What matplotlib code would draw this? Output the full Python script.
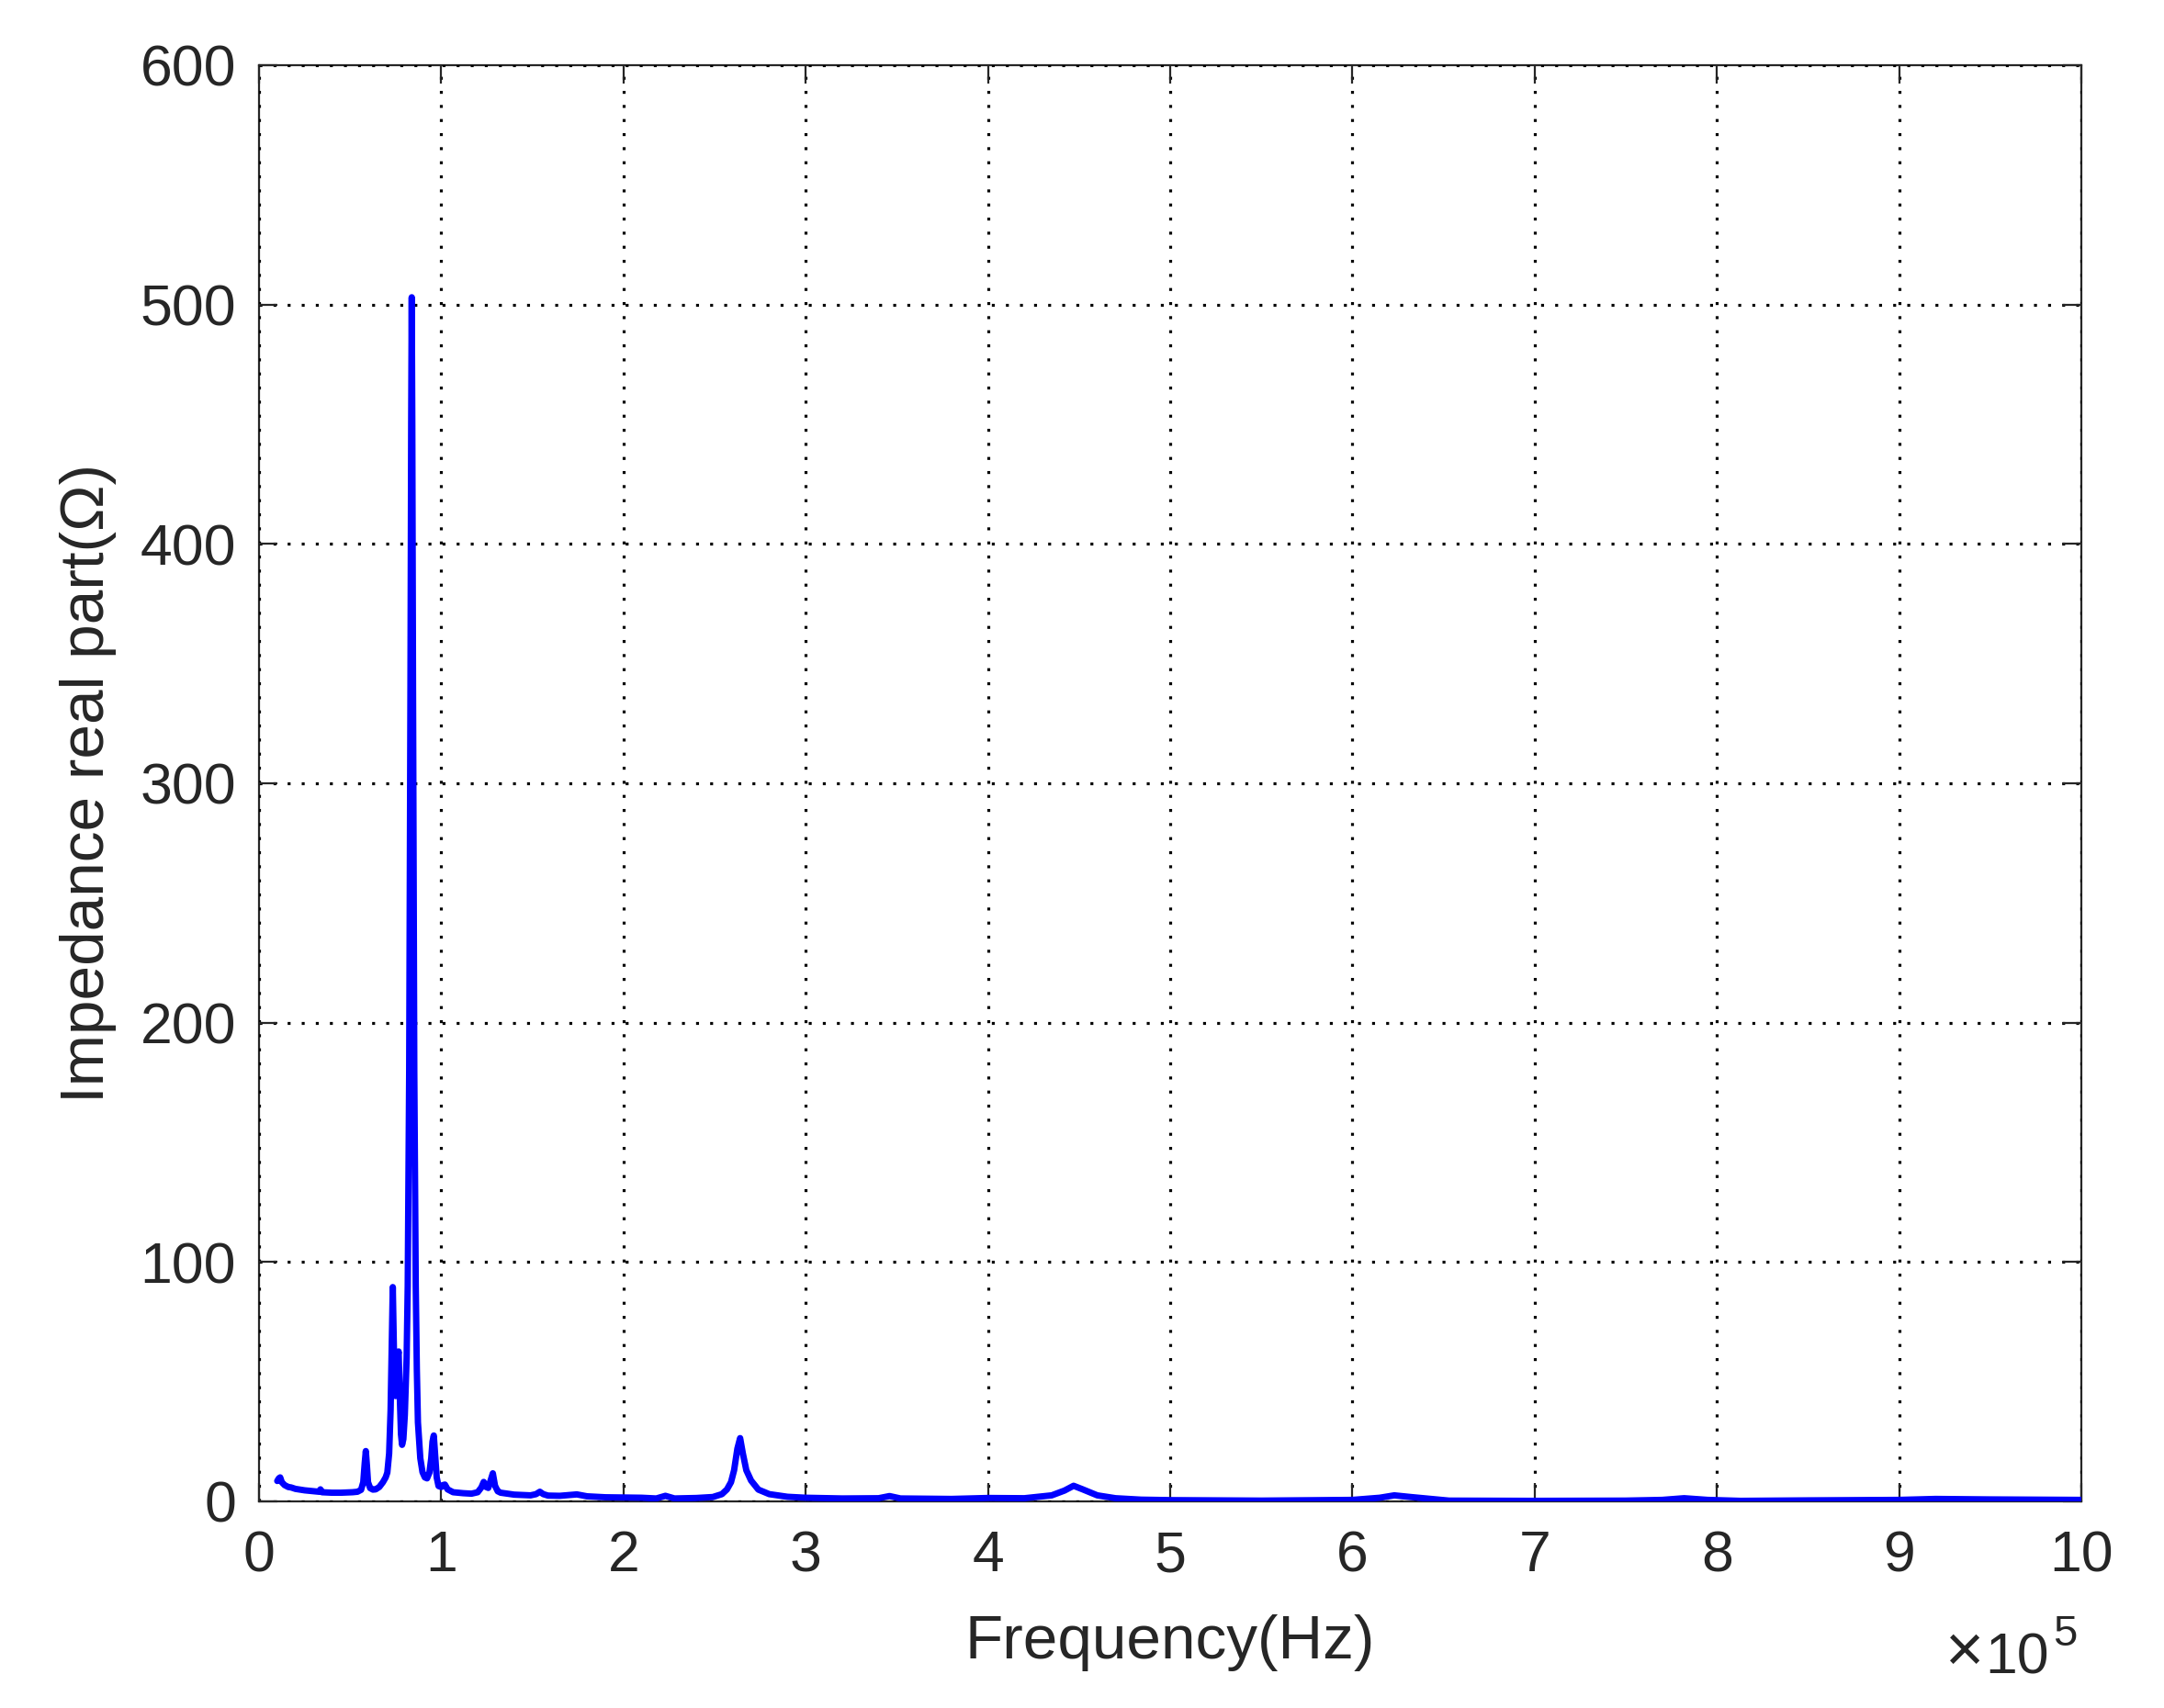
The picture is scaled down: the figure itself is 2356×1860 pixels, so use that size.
import numpy as np
import matplotlib.pyplot as plt
from matplotlib.ticker import FuncFormatter, MultipleLocator

plt.rcParams['font.family'] = ['Liberation Sans', 'DejaVu Sans']

# frequency, in units of 1e5 Hz
freq_e5 = [0.100, 0.109, 0.116, 0.125, 0.140, 0.160, 0.176, 0.200, 0.250, 0.300,
           0.330, 0.337, 0.345, 0.400, 0.450, 0.513, 0.540, 0.560, 0.572, 0.580,
           0.586, 0.592, 0.598, 0.610, 0.625, 0.640, 0.660, 0.680, 0.695, 0.704,
           0.714, 0.722, 0.728, 0.734, 0.740, 0.745, 0.749, 0.755, 0.761, 0.766,
           0.772, 0.779, 0.785, 0.792, 0.800, 0.810, 0.816, 0.824, 0.831, 0.835,
           0.838, 0.841, 0.845, 0.852, 0.860, 0.866, 0.872, 0.885, 0.897, 0.910,
           0.922, 0.935, 0.945, 0.952, 0.959, 0.966, 0.975, 0.985, 1.000, 1.010,
           1.020, 1.035, 1.065, 1.120, 1.166, 1.200, 1.220, 1.233, 1.246, 1.258,
           1.270, 1.283, 1.295, 1.310, 1.326, 1.400, 1.490, 1.520, 1.541, 1.560,
           1.586, 1.650, 1.700, 1.744, 1.800, 1.900, 2.000, 2.100, 2.180, 2.230,
           2.280, 2.400, 2.490, 2.540, 2.568, 2.590, 2.607, 2.625, 2.640, 2.655,
           2.674, 2.700, 2.740, 2.800, 2.900, 3.000, 3.200, 3.400, 3.460, 3.520,
           3.800, 4.000, 4.200, 4.350, 4.420, 4.470, 4.520, 4.600, 4.700, 4.840,
           5.000, 5.500, 6.000, 6.150, 6.230, 6.320, 6.530, 7.000, 7.500, 7.700,
           7.820, 7.950, 8.130, 8.500, 8.800, 9.000, 9.200, 9.500, 10.000]

# real part of impedance (ohm)
re_z = [8.5, 9.6, 10.0, 8.0, 6.8, 6.0, 5.8, 5.2, 4.6, 4.2,
        4.0, 5.0, 3.8, 3.6, 3.6, 3.8, 4.0, 4.8, 8.0, 16.0,
        21.0, 15.0, 8.0, 5.5, 4.9, 5.0, 6.0, 8.0, 10.0, 12.0,
        20.0, 38.0, 65.0, 89.5, 64.0, 48.0, 44.0, 50.0, 60.0, 62.6,
        45.0, 28.0, 23.6, 26.0, 36.0, 60.0, 90.0, 180.0, 340.0, 450.0,
        503.0, 450.0, 340.0, 180.0, 90.0, 55.0, 33.0, 18.0, 12.2, 10.0,
        9.6, 12.0, 18.0, 25.0, 27.5, 20.0, 10.0, 6.4, 6.0, 6.8,
        7.0, 5.0, 3.8, 3.4, 3.2, 3.8, 5.8, 8.1, 6.0, 5.6,
        8.5, 11.7, 6.5, 4.2, 3.6, 2.8, 2.5, 3.0, 4.0, 3.0,
        2.4, 2.3, 2.6, 2.9, 2.1, 1.7, 1.6, 1.5, 1.2, 2.3,
        1.2, 1.4, 1.8, 3.0, 5.0, 8.0, 13.0, 22.0, 26.4, 20.0,
        13.0, 8.7, 4.9, 3.0, 1.9, 1.5, 1.2, 1.3, 2.2, 1.2,
        1.0, 1.4, 1.3, 2.5, 4.5, 6.5, 5.0, 2.5, 1.3, 0.7,
        0.5, 0.3, 0.6, 1.5, 2.5, 1.8, 0.3, 0.2, 0.3, 0.6,
        1.3, 0.6, 0.2, 0.4, 0.5, 0.6, 1.0, 0.8, 0.6]

freq_hz = np.array(freq_e5) * 1e5

axis_col = '#262626'

fig = plt.figure(figsize=(11.78, 9.30), dpi=200)
ax = fig.add_axes([0.1197, 0.121, 0.8421, 0.8409])

ax.plot(freq_hz, re_z, color=(0, 0, 1), lw=2.5,
        solid_capstyle='round', solid_joinstyle='round', zorder=3)

ax.set_xlim(0, 1e6)
ax.set_ylim(0, 600)
ax.xaxis.set_major_locator(MultipleLocator(1e5))
ax.yaxis.set_major_locator(MultipleLocator(100))
ax.xaxis.set_major_formatter(FuncFormatter(lambda v, _: f'{v / 1e5:g}'))

ax.grid(True, color='black', linestyle=(0, (1, 3.8)), linewidth=1.15, zorder=1)
ax.set_axisbelow(False)

for s in ax.spines.values():
    s.set_color(axis_col)
    s.set_linewidth(0.8)
    s.set_zorder(2)

ax.tick_params(direction='in', length=7.2, width=0.8, color=axis_col,
               labelcolor=axis_col, labelsize=22.5, top=True, right=True)
ax.tick_params(axis='x', pad=11)
ax.tick_params(axis='y', pad=9)

ax.set_xlabel('Frequency(Hz)', fontsize=24.3, color=axis_col, labelpad=12)
ax.set_ylabel('Impedance real part(Ω)', fontsize=24.3, color=axis_col, labelpad=9)

# exponent note below the right end of the x axis
fig.text(0.917, 0.0215, '×', fontsize=26, color=axis_col,
         ha='right', va='baseline')
fig.text(0.947, 0.0200, '10', fontsize=22.5, color=axis_col,
         ha='right', va='baseline')
fig.text(0.9485, 0.0365, '5', fontsize=17, color=axis_col,
         ha='left', va='baseline')

fig.savefig('out.png', dpi=200, facecolor='white')
